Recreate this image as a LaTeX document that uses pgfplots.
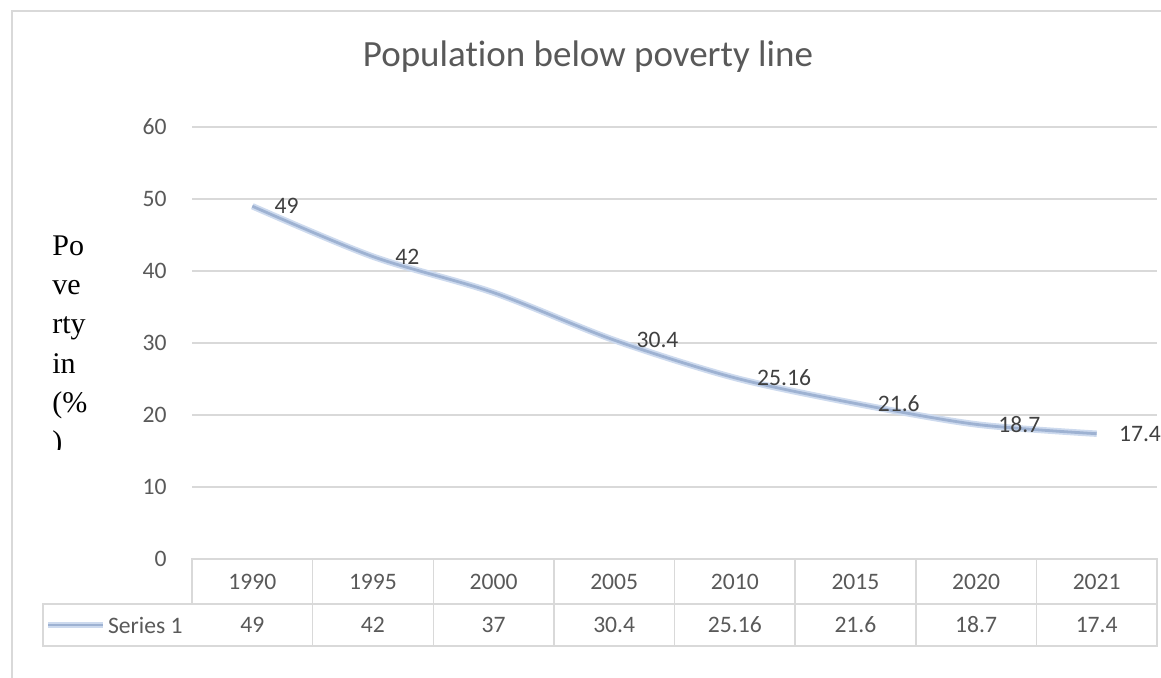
\documentclass[border=0pt]{standalone}
\usepackage{pgfplots}
\pgfplotsset{compat=1.18}
\usepackage{fontspec}
\setmainfont[Ligatures=NoCommon]{Carlito}
\newfontfamily\seriffont{Liberation Serif}
\definecolor{gridc}{RGB}{217,217,217}
\definecolor{txt}{RGB}{89,89,89}
\definecolor{lbl}{RGB}{64,64,64}
\definecolor{lineouter}{RGB}{205,218,238}
\definecolor{lineinner}{RGB}{158,178,210}
\newcommand{\lblfont}{\fontsize{11.8pt}{13pt}\selectfont}
\begin{document}
\begin{tikzpicture}
\path[use as bounding box] (0,0) rectangle (580.5pt,339pt);
\begin{axis}[
  at={(96pt,59.5pt)}, anchor=south west,
  scale only axis, width=482.5pt, height=216pt,
  xmin=-0.5, xmax=7.5, ymin=0, ymax=60,
  axis line style={draw=none},
  major tick length=0pt,
  ytick={0,10,...,60},
  ymajorgrids, grid style={gridc, line width=0.6pt},
  xtick={0,...,7},
  xticklabels={1990,1995,2000,2005,2010,2015,2020,2021},
  ticklabel style={font=\lblfont, text=txt},
  /pgf/number format/assume math mode=true,
  yticklabel style={anchor=east, inner sep=0pt, xshift=-12.5pt},
  xticklabel style={anchor=center, inner sep=0pt, yshift=-11.5pt},
  extra x ticks={0,...,7},
  extra x tick labels={49,42,37,30.4,25.16,21.6,18.7,17.4},
  extra x tick style={xticklabel style={yshift=-21.5pt}, grid=none},
  clip=false,
]
\addplot[lineouter, line width=3.2pt, smooth] coordinates {
  (0,49) (1,42) (2,37) (3,30.4) (4,25.16) (5,21.6) (6,18.7) (7,17.4)};
\addplot[lineinner, line width=1.4pt, smooth] coordinates {
  (0,49) (1,42) (2,37) (3,30.4) (4,25.16) (5,21.6) (6,18.7) (7,17.4)};
\addplot[draw=none, mark=none, nodes near coords, point meta=explicit symbolic,
  nodes near coords style={anchor=west, xshift=11pt, inner sep=0pt, font=\lblfont, text=lbl}]
  coordinates {(0,49)[49] (1,42)[42] (3,30.4)[30.4] (4,25.16)[25.16] (5,21.6)[21.6] (6,18.7)[18.7] (7,17.4)[17.4]};
\end{axis}
\begin{scope}[x=0.5pt, y=-0.5pt, shift={(0pt,339pt)}]
  \draw[gridc, line width=1pt] (12,680) -- (12,11) -- (1163,11);
  \draw[gridc, line width=0.75pt] (192,559) rectangle (1157,604);
  \draw[gridc, line width=0.75pt] (43,604) rectangle (1157,646);
  \foreach \i in {1,...,7} \draw[gridc, line width=0.75pt] ({192+\i*120.625},559) -- ({192+\i*120.625},646);
  \draw[lineouter, line width=3.2pt] (48,625) -- (103,625);
  \draw[lineinner, line width=1.4pt] (48,625) -- (103,625);
  \node[anchor=east, inner sep=0pt, text=txt, font=\lblfont] at (183,625) {Series 1};
  \node[anchor=base, inner sep=0pt, text=txt, font=\fontsize{18.5pt}{22pt}\selectfont] at (588,67) {Population below poverty line};
  \begin{scope}
    \clip (20,200) rectangle (140,450);
    \node[anchor=base west, inner sep=0pt, font=\seriffont\fontsize{15pt}{18pt}\selectfont] at (52,256) {Po};
    \node[anchor=base west, inner sep=0pt, font=\seriffont\fontsize{15pt}{18pt}\selectfont] at (52,295) {ve};
    \node[anchor=base west, inner sep=0pt, font=\seriffont\fontsize{15pt}{18pt}\selectfont] at (52,334) {rty};
    \node[anchor=base west, inner sep=0pt, font=\seriffont\fontsize{15pt}{18pt}\selectfont] at (52,374) {in};
    \node[anchor=base west, inner sep=0pt, font=\seriffont\fontsize{15pt}{18pt}\selectfont] at (52,413) {(\%};
    \node[anchor=base west, inner sep=0pt, font=\seriffont\fontsize{15pt}{18pt}\selectfont] at (52,452) {)};
  \end{scope}
\end{scope}
\end{tikzpicture}
\end{document}
